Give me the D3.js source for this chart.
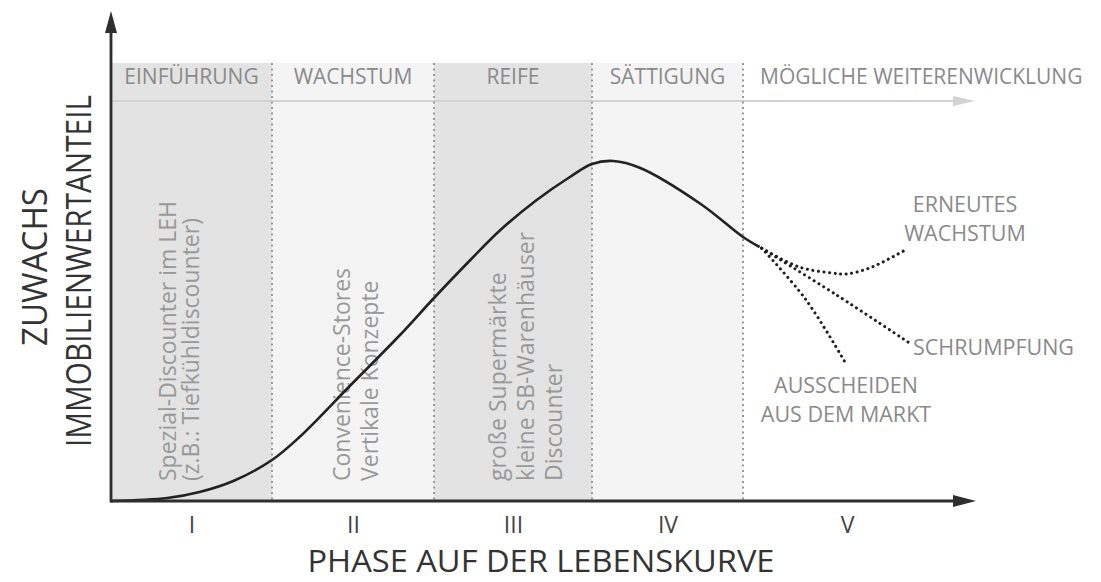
<!DOCTYPE html>
<html>
<head>
<meta charset="utf-8">
<script src="https://cdn.jsdelivr.net/npm/d3@7"></script>
<style>
  body { margin: 0; background: #fff; }
  svg { display: block; font-family: "Open Sans", sans-serif; }
</style>
</head>
<body>
<div id="chart"></div>
<script>
// phases of the life cycle
const phases = ["I", "II", "III", "IV", "V"];
const phaseNames = ["EINFÜHRUNG", "WACHSTUM", "REIFE", "SÄTTIGUNG", "MÖGLICHE WEITERENWICKLUNG"];
const phaseEdges = [0, 1, 2, 3, 4, 5];
const phaseExamples = [
    ["Spezial-Discounter im LEH", "(z.B.: Tiefkühldiscounter)"],
    ["Convenience-Stores", "Vertikale Konzepte"],
    ["große Supermärkte", "kleine SB-Warenhäuser", "Discounter"],
    [],
    []
];

// main life curve (x in phase units, y = share 0..100)
const curveX = [0, 0.35, 0.55, 0.76, 1, 1.17, 1.48, 1.79, 2, 2.23, 2.42, 2.65, 2.86, 3, 3.14, 3.32, 3.72, 4, 4.08];
const curveY = [0, 0.75, 2.25, 5, 10.25, 16, 28.75, 41.5, 50.75, 60.25, 67.75, 75.25, 81, 84.25, 85, 83.25, 74.25, 66, 63.5];

// possible further developments (dotted)
const branchNames = [["ERNEUTES", "WACHSTUM"], ["SCHRUMPFUNG"], ["AUSSCHEIDEN", "AUS DEM MARKT"]];
const branchX = [[4.09, 4.27, 4.43, 4.5, 4.62, 4.78], [4.09, 4.45, 4.8], [4.09, 4.3, 4.49]];
const branchY = [[63.2, 58.5, 57, 56.75, 58.5, 62.75], [63.2, 51.5, 39.5], [63.2, 50.5, 34.75]];

const fullWidth = 1101;
const fullHeight = 582;
const bandBottom = 501, bandTop = 63;

const svg = d3.select("#chart")
    .append("svg")
    .attr("width", fullWidth)
    .attr("height", fullHeight);

const xScale = d3.scaleLinear()
    .domain(phaseEdges)
    .range([111, 272, 434, 592, 743, 951]);

const yScale = d3.scaleLinear()
    .domain([0, 100])
    .range([bandBottom, 101]);

// shaded phase bands
svg.append("g").selectAll("rect")
    .data(phases.slice(0, 4))
    .enter()
    .append("rect")
    .attr("x", (d, i) => xScale(i))
    .attr("width", (d, i) => xScale(i + 1) - xScale(i))
    .attr("y", bandTop)
    .attr("height", bandBottom - bandTop)
    .attr("fill", (d, i) => i % 2 ? "#f4f4f4" : "#e3e3e3");

// light arrow under the header
svg.append("line")
    .attr("x1", xScale(0)).attr("x2", 955)
    .attr("y1", yScale(100)).attr("y2", yScale(100))
    .attr("stroke", "#d2d2d2").attr("stroke-width", 2);
svg.append("path")
    .attr("d", `M953,${yScale(100) - 5}L975,${yScale(100)}L953,${yScale(100) + 5}Z`)
    .attr("fill", "#d2d2d2");

// dotted separators
svg.append("g").selectAll("line")
    .data(phaseEdges.slice(1, 5))
    .enter()
    .append("line")
    .attr("x1", d => xScale(d)).attr("x2", d => xScale(d))
    .attr("y1", bandTop).attr("y2", bandBottom)
    .attr("stroke", "#9a9a9a")
    .attr("stroke-width", 2)
    .attr("stroke-dasharray", "2,3.5");

// header labels
svg.append("g").selectAll("text")
    .data(phaseNames)
    .enter()
    .append("text")
    .attr("x", (d, i) => i < 4 ? xScale(i + 0.5) : xScale(4) + 17)
    .attr("y", 84)
    .attr("text-anchor", (d, i) => i < 4 ? "middle" : "start")
    .attr("font-size", 21)
    .attr("fill", "#8a8a8a")
    .text(d => d);

// vertical example texts
const exampleBase = [176, 350, 506];
const exampleStep = [23, 28, 28];
phaseExamples.forEach((lines, i) => {
    lines.forEach((t, j) => {
        svg.append("text")
            .attr("transform", `translate(${exampleBase[i] + j * exampleStep[i]},481) rotate(-90)`)
            .attr("font-size", 23)
            .attr("fill", "#999")
            .text(t);
    });
});

// main curve
const line = d3.line()
    .x(d => xScale(d[0]))
    .y(d => yScale(d[1]))
    .curve(d3.curveCatmullRom);

svg.append("path")
    .datum(d3.zip(curveX, curveY))
    .attr("d", line)
    .attr("fill", "none")
    .attr("stroke", "#222")
    .attr("stroke-width", 2.6);

// dotted branches
svg.append("g").selectAll("path")
    .data(branchX.map((xs, i) => d3.zip(xs, branchY[i])))
    .enter()
    .append("path")
    .attr("d", line)
    .attr("fill", "none")
    .attr("stroke", "#1e1e1e")
    .attr("stroke-width", 3)
    .attr("stroke-linecap", "round")
    .attr("stroke-dasharray", "0.1,5.5");

// branch labels
const labelPos = [[965, 212, "middle"], [913, 355, "start"], [846, 393, "middle"]];
branchNames.forEach((lines, i) => {
    lines.forEach((t, j) => {
        svg.append("text")
            .attr("x", labelPos[i][0])
            .attr("y", labelPos[i][1] + j * 29)
            .attr("text-anchor", labelPos[i][2])
            .attr("font-size", 21.5)
            .attr("fill", "#8a8a8a")
            .text(t);
    });
});

// axes with arrow heads
svg.append("line")
    .attr("x1", xScale(0)).attr("x2", 958)
    .attr("y1", bandBottom).attr("y2", bandBottom)
    .attr("stroke", "#2e2e2e").attr("stroke-width", 2.8);
svg.append("path")
    .attr("d", `M953,${bandBottom - 6}L976,${bandBottom}L953,${bandBottom + 6}Z`)
    .attr("fill", "#2e2e2e");
svg.append("line")
    .attr("x1", xScale(0)).attr("x2", xScale(0))
    .attr("y1", bandBottom + 1.4).attr("y2", 30)
    .attr("stroke", "#2e2e2e").attr("stroke-width", 2.8);
svg.append("path")
    .attr("d", `M${xScale(0) - 6},33L${xScale(0)},11L${xScale(0) + 6},33Z`)
    .attr("fill", "#2e2e2e");

// roman numerals
const xAxis = d3.axisBottom(xScale)
    .tickValues(phaseEdges.slice(0, 5).map(d => d + 0.5))
    .tickFormat((d, i) => phases[i])
    .tickSize(0)
    .tickPadding(16);

const gx = svg.append("g")
    .attr("transform", `translate(0,${bandBottom})`)
    .call(xAxis);
gx.select(".domain").remove();
gx.selectAll("text")
    .attr("font-family", "Open Sans, sans-serif")
    .attr("font-size", 23)
    .attr("fill", "#444");

// axis titles
svg.append("text")
    .attr("x", 541).attr("y", 572)
    .attr("text-anchor", "middle")
    .attr("font-size", 31)
    .attr("fill", "#333")
    .attr("textLength", 467)
    .attr("lengthAdjust", "spacingAndGlyphs")
    .text("PHASE AUF DER LEBENSKURVE");

svg.append("text")
    .attr("transform", "translate(47,267) rotate(-90)")
    .attr("text-anchor", "middle")
    .attr("font-size", 34)
    .attr("fill", "#333")
    .attr("textLength", 158)
    .attr("lengthAdjust", "spacingAndGlyphs")
    .text("ZUWACHS");

svg.append("text")
    .attr("transform", "translate(91,271) rotate(-90)")
    .attr("text-anchor", "middle")
    .attr("font-size", 34)
    .attr("fill", "#333")
    .attr("textLength", 352)
    .attr("lengthAdjust", "spacingAndGlyphs")
    .text("IMMOBILIENWERTANTEIL");
</script>
</body>
</html>
